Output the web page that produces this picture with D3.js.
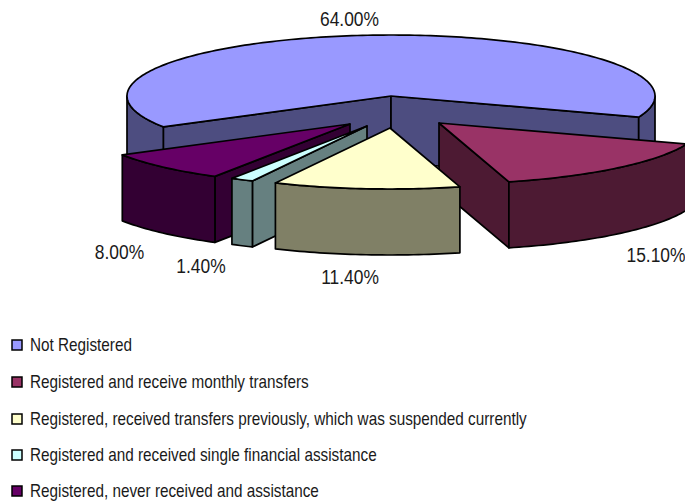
<!DOCTYPE html>
<html>
<head>
<meta charset="utf-8">
<script src="https://cdn.jsdelivr.net/npm/d3@7"></script>
<style>
html,body{margin:0;padding:0;background:#fff;overflow:hidden}
svg{display:block}
text{font-family:"Liberation Sans",Arial,sans-serif;fill:#1a1a1a}
</style>
</head>
<body>
<svg id="chart" width="685" height="502"></svg>
<script>
const categories = [
  "Not Registered",
  "Registered and receive monthly transfers",
  "Registered, received transfers previously, which was suspended currently",
  "Registered and received single financial assistance",
  "Registered, never received and assistance"
];
const shares = [64.0, 15.1, 11.4, 1.4, 8.0];
const topColors = ["#9999FF", "#993366", "#FFFFCC", "#CCFFFF", "#660066"];
const sideColors = ["#4D4D80", "#4D1A33", "#808066", "#668080", "#330033"];

// layout
const W = 685, H = 502;
const cx = 391, cy = 96, rx = 264, ry = 61, depth = 66;
const firstAngle = 239.6 * Math.PI / 180;
const explode = [[0, 0], [48, 27], [-1, 32], [-24, 30], [-41, 28]];
const drawOrder = [0, 4, 3, 1, 2];
const labelPos = [[349.5, 26], [656, 262], [350, 284], [201, 273], [119.5, 259]];
const legendY = [345, 382, 419, 455, 491];
const narrow = 0.85;
const labelNarrow = 0.87;

const svg = d3.select("#chart");
const pie = d3.pie().sort(null).value(d => d)
  .startAngle(firstAngle).endAngle(firstAngle + 2 * Math.PI);
const arcs = pie(shares);
const line = d3.line();

const pt = (i, t, r = 1, dz = 0) => [
  cx + explode[i][0] + rx * r * Math.sin(t),
  cy + explode[i][1] - ry * r * Math.cos(t) + dz
];
const sampleArc = (i, a, b, dz) => {
  const n = Math.max(2, Math.ceil(Math.abs(b - a) / 0.02));
  return d3.range(n + 1).map(k => pt(i, a + (b - a) * k / n, 1, dz));
};
const closed = pts => line(pts) + "Z";
const strokeW = 1.7;

function drawSlice(i) {
  const d = arcs[i], g = svg.append("g");
  const a = d.startAngle, b = d.endAngle;
  const apex = pt(i, 0, 0), apexLow = pt(i, 0, 0, depth);
  const wall = t => g.append("path")
    .attr("d", closed([apex, pt(i, t), pt(i, t, 1, depth), apexLow]))
    .attr("fill", sideColors[i]).attr("stroke", "#000")
    .attr("stroke-width", strokeW).attr("stroke-linejoin", "round");
  if (Math.sin(a) < 0) wall(a);
  if (Math.sin(b) > 0) wall(b);
  // outer rim: the part of the rim on the near half of the ellipse
  [[Math.PI / 2, 3 * Math.PI / 2], [5 * Math.PI / 2, 7 * Math.PI / 2]].forEach(([lo, hi]) => {
    const s = Math.max(a, lo), e = Math.min(b, hi);
    if (e <= s) return;
    g.append("path")
      .attr("d", closed(sampleArc(i, s, e, 0).concat(sampleArc(i, e, s, depth))))
      .attr("fill", sideColors[i]).attr("stroke", "#000")
      .attr("stroke-width", strokeW).attr("stroke-linejoin", "round");
  });
  g.append("path")
    .attr("d", closed([apex].concat(sampleArc(i, a, b, 0))))
    .attr("fill", topColors[i]).attr("stroke", "#000")
    .attr("stroke-width", strokeW).attr("stroke-linejoin", "round");
}
drawOrder.forEach(drawSlice);

// data labels
svg.append("g").selectAll("text").data(shares).join("text")
  .attr("transform", (d, i) => `translate(${labelPos[i][0]},${labelPos[i][1]}) scale(${labelNarrow},1)`)
  .attr("text-anchor", "middle")
  .attr("font-size", 20)
  .text(d => d.toFixed(2) + "%");

// legend
const legend = svg.append("g").selectAll("g").data(categories).join("g")
  .attr("transform", (d, i) => `translate(0,${legendY[i]})`);
legend.append("rect")
  .attr("x", 12).attr("y", -5).attr("width", 10).attr("height", 10)
  .attr("fill", (d, i) => topColors[i])
  .attr("stroke", "#000").attr("stroke-width", 1.5);
legend.append("text")
  .attr("transform", `translate(30,6) scale(${narrow},1)`)
  .attr("font-size", 18)
  .text(d => d);
</script>
</body>
</html>
